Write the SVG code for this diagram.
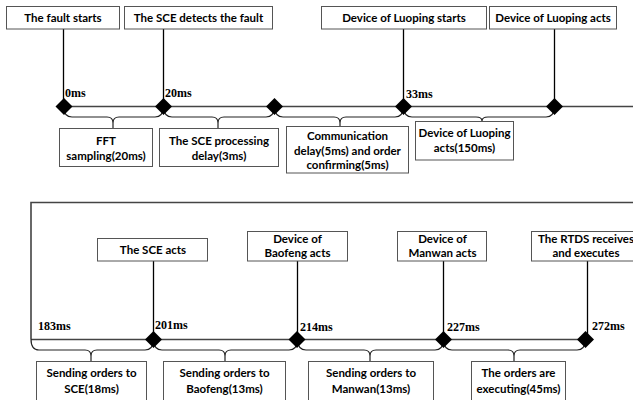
<svg xmlns="http://www.w3.org/2000/svg" width="633" height="400" viewBox="0 0 633 400">
<defs>
<style>
.box{fill:#fff;stroke:#555;stroke-width:1}
.t{font-family:Lato,"Liberation Sans",sans-serif;font-weight:bold;font-size:11.5px;fill:#000;text-anchor:middle}
.ms{font-family:"Liberation Serif",serif;font-weight:bold;font-size:12px;fill:#000}
.ln{stroke:#000;stroke-width:1.3;fill:none}
.tl{stroke:#444;stroke-width:1.6;fill:none}
.br{stroke:#222;stroke-width:1.2;fill:none}
</style>
<path id="dm" d="M0,-8.5 L8.5,0 L0,8.5 L-8.5,0 Z" fill="#000"/>
</defs>
<rect width="633" height="400" fill="#fff"/>
<g id="connectors">
<line class="tl" x1="64" y1="106.5" x2="633" y2="106.5"/>
<line class="ln" x1="63.5" y1="29" x2="63.5" y2="106"/>
<line class="ln" x1="163.5" y1="29" x2="163.5" y2="106"/>
<line class="ln" x1="403.5" y1="29" x2="403.5" y2="106"/>
<line class="ln" x1="554.5" y1="29" x2="554.5" y2="106"/>
<path class="br" d="M64,108 Q64,117 72,117 H107 Q113,117 113,123 Q113,117 119,117 H155 Q163,117 163,108 M113,123 V128"/>
<path class="br" d="M164,108 Q164,117 172,117 H212 Q218,117 218,123 Q218,117 224,117 H266 Q274,117 274,108 M218,123 V128"/>
<path class="br" d="M275,108 Q275,117 283,117 H334 Q340,117 340,123 Q340,117 346,117 H395 Q403,117 403,108 M340,123 V126"/>
<path class="br" d="M404,108 Q404,117 412,117 H476 Q482,117 482,121 Q482,117 488,117 H546 Q554,117 554,108"/>
<polyline class="tl" points="31,339 31,202.5 633,202.5"/>
<line class="tl" x1="31" y1="339.5" x2="585" y2="339.5"/>
<line class="ln" x1="153.5" y1="261" x2="153.5" y2="339"/>
<line class="ln" x1="297.5" y1="261" x2="297.5" y2="339"/>
<line class="ln" x1="443.5" y1="261" x2="443.5" y2="339"/>
<line class="ln" x1="587.5" y1="261" x2="587.5" y2="339"/>
<path class="br" d="M31,339 Q31,350 39,350 H85 Q91,350 91,356 Q91,350 97,350 H145 Q153,350 153,341 M91,356 V361"/>
<path class="br" d="M154,341 Q154,350 162,350 H219 Q225,350 225,356 Q225,350 231,350 H289 Q297,350 297,341 M225,356 V361"/>
<path class="br" d="M298,341 Q298,350 306,350 H364 Q370,350 370,356 Q370,350 376,350 H435 Q443,350 443,341 M370,356 V361"/>
<path class="br" d="M444,341 Q444,350 452,350 H508 Q514,350 514,356 Q514,350 520,350 H577 Q585,350 585,341 M514,356 V361"/>
</g>
<g id="markers">
<use href="#dm" x="64" y="106.5"/>
<use href="#dm" x="163.5" y="106.5"/>
<use href="#dm" x="274.5" y="106.5"/>
<use href="#dm" x="403.5" y="106.5"/>
<use href="#dm" x="554.5" y="106.5"/>
<use href="#dm" x="153.5" y="339.5"/>
<use href="#dm" x="297" y="339.5"/>
<use href="#dm" x="443.5" y="339.5"/>
<use href="#dm" x="585.5" y="339.5"/>
</g>
<g id="times">
<text class="ms" x="65" y="97">0ms</text>
<text class="ms" x="165" y="97">20ms</text>
<text class="ms" x="406" y="98">33ms</text>
<text class="ms" x="38" y="330">183ms</text>
<text class="ms" x="155" y="329">201ms</text>
<text class="ms" x="300" y="331">214ms</text>
<text class="ms" x="447" y="331">227ms</text>
<text class="ms" x="592" y="330">272ms</text>
</g>
<g id="n-fault-starts"><rect class="box" x="6.5" y="6.5" width="113" height="22.5"/><text class="t" x="63" y="22">The fault starts</text></g>
<g id="n-sce-detects"><rect class="box" x="124.5" y="6.5" width="148" height="22.5"/><text class="t" x="198.5" y="22">The SCE detects the fault</text></g>
<g id="n-luoping-starts"><rect class="box" x="321.5" y="6.5" width="165" height="22.5"/><text class="t" x="404" y="22">Device of Luoping starts</text></g>
<g id="n-luoping-acts"><rect class="box" x="489.5" y="6.5" width="127" height="22.5"/><text class="t" x="553" y="22">Device of Luoping acts</text></g>
<g id="n-fft"><rect class="box" x="59.5" y="128.5" width="93" height="38"/><text class="t" x="106" y="145">FFT</text><text class="t" x="106" y="160">sampling(20ms)</text></g>
<g id="n-sce-proc"><rect class="box" x="159.5" y="128.5" width="119" height="38"/><text class="t" x="219" y="145">The SCE processing</text><text class="t" x="219" y="160">delay(3ms)</text></g>
<g id="n-comm"><rect class="box" x="286.5" y="126.5" width="122" height="46.5"/><text class="t" x="347.5" y="140">Communication</text><text class="t" x="347.5" y="155">delay(5ms) and order</text><text class="t" x="347.5" y="169">confirming(5ms)</text></g>
<g id="n-luoping-acts-150"><rect class="box" x="415.5" y="121.5" width="98" height="38.5"/><text class="t" x="464.5" y="137">Device of Luoping</text><text class="t" x="464.5" y="152">acts(150ms)</text></g>
<g id="n-sce-acts"><rect class="box" x="97.5" y="238.5" width="110" height="22.5"/><text class="t" x="153" y="254">The SCE acts</text></g>
<g id="n-baofeng"><rect class="box" x="247.5" y="231.5" width="100" height="29.5"/><text class="t" x="297.5" y="243">Device of</text><text class="t" x="297.5" y="257">Baofeng acts</text></g>
<g id="n-manwan"><rect class="box" x="397.5" y="231.5" width="89" height="29.5"/><text class="t" x="442.5" y="243">Device of</text><text class="t" x="442.5" y="257">Manwan acts</text></g>
<g id="n-rtds"><rect class="box" x="531.5" y="231.5" width="110" height="29.5"/><text class="t" x="586" y="243">The RTDS receives</text><text class="t" x="586" y="257">and executes</text></g>
<g id="n-send-sce"><rect class="box" x="36.5" y="361.5" width="110" height="45"/><text class="t" x="91.5" y="377">Sending orders to</text><text class="t" x="91.5" y="393">SCE(18ms)</text></g>
<g id="n-send-baofeng"><rect class="box" x="163.5" y="361.5" width="122" height="45"/><text class="t" x="224.5" y="377">Sending orders to</text><text class="t" x="224.5" y="393">Baofeng(13ms)</text></g>
<g id="n-send-manwan"><rect class="box" x="308.5" y="361.5" width="125" height="45"/><text class="t" x="371" y="377">Sending orders to</text><text class="t" x="371" y="393">Manwan(13ms)</text></g>
<g id="n-executing"><rect class="box" x="471.5" y="361.5" width="94" height="45"/><text class="t" x="518.5" y="377">The orders are</text><text class="t" x="518.5" y="393">executing(45ms)</text></g>
</svg>
